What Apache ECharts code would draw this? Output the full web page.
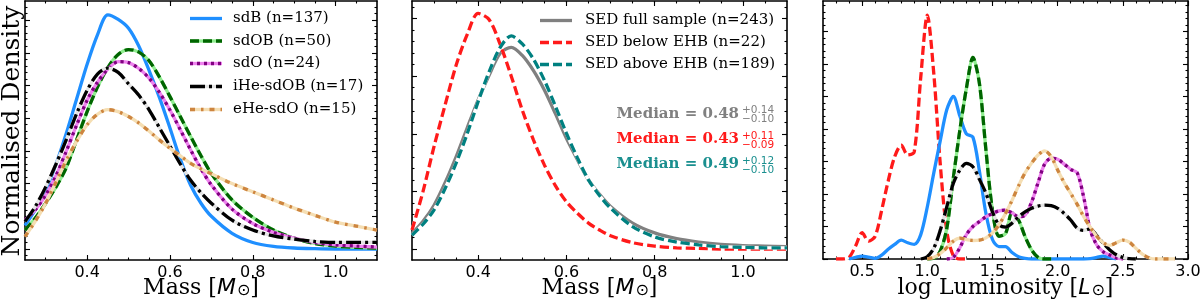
<!DOCTYPE html>
<html><head><meta charset="utf-8">
<script src="https://cdn.jsdelivr.net/npm/echarts@6/dist/echarts.min.js"></script>
<style>html,body{margin:0;padding:0;background:#fff}#c{width:1200px;height:301px}</style>
</head><body><div id="c"></div>
<script>
// ---------- Panel 1 & 2: mass grid ----------
const massGrid = [0.25,0.275,0.30,0.325,0.35,0.375,0.40,0.425,0.45,0.475,0.50,0.525,0.55,0.575,0.60,0.625,0.65,0.675,0.70,0.75,0.80,0.85,0.90,0.95,1.00,1.05,1.10];
const mass_sdB  = [0.72,1.2,1.8,2.6,3.55,4.6,5.65,6.55,7.16,7.02,6.75,6.2,5.45,4.62,3.7,2.75,1.95,1.4,1.0,0.48,0.2,0.08,0.03,0.01,0.0,0.0,0.0];
const mass_sdOB = [0.58,0.95,1.4,1.9,2.5,3.35,4.2,4.95,5.55,5.95,6.1,6.02,5.75,5.25,4.66,4.05,3.44,2.85,2.31,1.5,0.97,0.58,0.33,0.17,0.09,0.05,0.03];
const mass_sdO  = [0.89,1.2,1.65,2.25,3.0,3.8,4.55,5.1,5.5,5.73,5.7,5.52,5.22,4.78,4.25,3.65,3.03,2.45,1.96,1.22,0.78,0.51,0.33,0.2,0.13,0.09,0.06];
const mass_iHe  = [0.84,1.3,1.9,2.6,3.35,4.15,4.85,5.35,5.53,5.4,5.05,4.7,4.25,3.7,3.15,2.6,2.1,1.72,1.4,0.88,0.58,0.4,0.3,0.23,0.2,0.2,0.2];
const mass_eHe  = [0.38,0.85,1.4,2.05,2.72,3.3,3.8,4.12,4.26,4.2,4.05,3.85,3.6,3.33,3.08,2.85,2.62,2.45,2.3,2.0,1.75,1.5,1.25,1.03,0.82,0.7,0.58];
const sed_full  = [0.27,0.48,0.76,1.15,1.6,2.1,2.59,3.02,3.4,3.5,3.36,3.1,2.76,2.35,1.92,1.55,1.2,0.95,0.74,0.45,0.28,0.18,0.12,0.08,0.06,0.05,0.04];
const sed_below = [0.33,1.0,1.78,2.5,3.19,3.72,4.09,3.98,3.55,3.0,2.41,1.9,1.46,1.1,0.82,0.62,0.45,0.33,0.23,0.11,0.05,0.02,0.01,0.0,0.0,0.0,0.0];
const sed_above = [0.24,0.43,0.68,1.05,1.49,2.0,2.56,3.08,3.5,3.7,3.56,3.3,2.93,2.48,2.01,1.58,1.2,0.93,0.71,0.39,0.21,0.12,0.07,0.04,0.03,0.02,0.02];

// ---------- Panel 3: log luminosity grid ----------
const lumGrid = [0.30,0.35,0.40,0.45,0.50,0.55,0.60,0.65,0.70,0.75,0.80,0.85,0.90,0.95,1.00,1.05,1.10,1.15,1.20,1.25,1.30,1.35,1.40,1.45,1.50,1.55,1.60,1.65,1.70,1.75,1.80,1.85,1.90,1.95,2.00,2.05,2.10,2.15,2.20,2.25,2.30,2.35,2.40,2.45,2.50,2.55,2.60,2.65,2.70,2.75,2.80,2.85,2.90];
const N = null;
const lum_below = [0,0,0.05,0.4,0.81,0.55,0.7,1.5,2.4,3.15,3.5,3.2,3.3,5.6,7.5,5.7,2.9,0.85,0.1,0,0,N,N,N,N,N,N,N,N,N,N,N,N,N,N,N,N,N,N,N,N,N,N,N,N,N,N,N,N,N,N,N,N];
const lum_sdB   = [N,N,0,0.05,0.09,0.06,0.02,0.12,0.3,0.45,0.58,0.5,0.45,0.75,1.6,2.65,3.65,4.6,5.0,4.4,3.85,3.75,2.7,1.4,0.6,0.38,0.38,0.2,0.07,0.02,0,0,0,0,0,0,0,0,0,0.01,0.05,0.09,0.04,0,N,N,N,N,N,N,N,N,N];
const lum_sdOB  = [N,N,N,N,N,N,N,N,N,N,N,N,N,N,0,0.02,0.25,0.95,2.5,3.97,5.25,6.2,5.4,3.35,1.5,0.7,0.78,1.42,1.2,0.69,0.28,0.05,0,0,N,N,N,N,N,N,N,N,N,N,N,N,N,N,N,N,N,N,N];
const lum_sdO   = [N,N,N,N,N,N,N,N,N,N,N,N,N,N,N,N,N,0,0.05,0.35,0.75,1.0,1.15,1.3,1.4,1.48,1.5,1.42,1.3,1.35,1.75,2.35,2.92,3.1,3.07,2.92,2.76,2.65,1.9,0.9,0.43,0.22,0.12,0.03,0,N,N,N,N,N,N,N,N];
const lum_iHe   = [N,N,N,N,N,N,N,N,N,N,N,N,N,0,0.07,0.33,0.89,1.61,2.33,2.74,2.94,2.84,2.45,2.02,1.45,1.05,0.98,1.1,1.3,1.45,1.56,1.63,1.66,1.64,1.56,1.4,1.2,0.95,0.88,0.93,0.72,0.48,0.28,0.13,0.05,0.01,0,N,N,N,N,N,N];
const lum_eHe   = [N,N,N,N,N,N,N,N,N,N,N,N,N,N,0,0.05,0.17,0.35,0.55,0.64,0.6,0.57,0.58,0.65,0.8,1.05,1.4,1.8,2.25,2.65,2.95,3.2,3.33,3.15,2.74,2.35,2.02,1.68,1.3,0.98,0.7,0.5,0.42,0.5,0.58,0.52,0.33,0.15,0.04,0,0,0,0];

// tick labels
const massTickLabels = [0.4,0.6,0.8,1.0];
const lumTickLabels = [0.5,1.0,1.5,2.0,2.5,3.0];

// legends / texts
const legend1 = ['sdB (n=137)','sdOB (n=50)','sdO (n=24)','iHe-sdOB (n=17)','eHe-sdO (n=15)'];
const legend2 = ['SED full sample (n=243)','SED below EHB (n=22)','SED above EHB (n=189)'];
const medians = [['0.48','+0.14','\u22120.10'],['0.43','+0.11','\u22120.09'],['0.49','+0.12','\u22120.10']];
const xNames = ['Mass [{m|M}{s|\u2299}]','Mass [{m|M}{s|\u2299}]','log Luminosity [{m|L}{s|\u2299}]'];

const C = {
  blue:'#1f8fff', green:'#006400', lgreen:'#90ee90', purple:'#800080', violet:'#ee82ee',
  black:'#000000', lgray:'#e4e4e4', orange:'#cd853f', wheat:'#f5deb3',
  gray:'#808080', red:'#ff1a1a', teal:'#008080', white:'#ffffff'
};
const STY = {
  sdB:  {c:C.blue, u:null, d:'solid'},
  sdOB: {c:C.green, u:C.lgreen, d:[9,4]},
  sdO:  {c:C.purple, u:C.violet, d:[3,4]},
  iHe:  {c:C.black, u:C.lgray, d:[15,4,3,4]},
  eHe:  {c:C.orange, u:C.wheat, d:[5,6,2.5,6]},
  full: {c:C.gray, u:null, d:'solid'},
  below:{c:C.red, u:C.white, d:[9,4]},
  above:{c:C.teal, u:C.white, d:[9,4]}
};
const LW = 3.3;

function range(a,b,s){const r=[];for(let v=a;v<=b+1e-9;v+=s)r.push(Math.round(v*1000)/1000);return r;}

const grids = [
  {left:25, top:1, width:352, height:259, outerBoundsMode:'none', containLabel:false},
  {left:412, top:1, width:375, height:259, outerBoundsMode:'none', containLabel:false},
  {left:823, top:1, width:365, height:258, outerBoundsMode:'none', containLabel:false}
];
const axCfg = [
  {xmin:0.25,xmax:1.1,xMaj:range(0.4,1.0,0.2),xMin:range(0.3,1.05,0.05),xLab:massTickLabels,
   ymin:-11/32.7,ymax:248/32.7,yMaj:range(0,7,1),yMin:range(-0.2,7.4,0.2)},
  {xmin:0.25,xmax:1.1,xMaj:range(0.4,1.0,0.2),xMin:range(0.3,1.05,0.05),xLab:massTickLabels,
   ymin:-11/57.6,ymax:248/57.6,yMaj:range(0,4,1),yMin:range(-0.2,4.2,0.2)},
  {xmin:0.2,xmax:3.0,xMaj:range(0.5,3.0,0.5),xMin:range(0.3,2.9,0.1),xLab:lumTickLabels,
   ymin:0,ymax:258/32.5,yMaj:range(0,7,1),yMin:range(0,7.8,0.2)}
];

const xAxes=[], yAxes=[];
const lineSty = {color:'#000', width:1.6};
const tickSty = {color:'#000', width:1.1};
axCfg.forEach((a,gi)=>{
  const bx = {type:'value', gridIndex:gi, min:a.xmin, max:a.xmax, splitLine:{show:false}, silent:true};
  const by = {type:'value', gridIndex:gi, min:a.ymin, max:a.ymax, splitLine:{show:false}, silent:true};
  xAxes.push(Object.assign({}, bx, {position:'bottom',
    axisLine:{show:true,onZero:false,lineStyle:lineSty},
    axisTick:{show:true,inside:true,length:5,customValues:a.xMaj,lineStyle:tickSty},
    axisLabel:{show:true,customValues:a.xLab,formatter:v=>Number(v).toFixed(1),margin:5,
      fontFamily:'DejaVu Sans',fontSize:16,color:'#000'}
  }));
  xAxes.push(Object.assign({}, bx, {position:'top',
    axisLine:{show:true,onZero:false,lineStyle:lineSty},
    axisTick:{show:true,inside:true,length:5,customValues:a.xMaj,lineStyle:tickSty},
    axisLabel:{show:false}}));
  xAxes.push(Object.assign({}, bx, {position:'bottom',
    axisLine:{show:false,onZero:false},
    axisTick:{show:true,inside:true,length:2.5,customValues:a.xMin,lineStyle:tickSty},
    axisLabel:{show:false}}));
  xAxes.push(Object.assign({}, bx, {position:'top',
    axisLine:{show:false,onZero:false},
    axisTick:{show:true,inside:true,length:2.5,customValues:a.xMin,lineStyle:tickSty},
    axisLabel:{show:false}}));
  yAxes.push(Object.assign({}, by, {position:'left',
    axisLine:{show:true,onZero:false,lineStyle:lineSty},
    axisTick:{show:true,inside:true,length:5,customValues:a.yMaj,lineStyle:tickSty},
    axisLabel:{show:false}}));
  yAxes.push(Object.assign({}, by, {position:'right',
    axisLine:{show:true,onZero:false,lineStyle:lineSty},
    axisTick:{show:true,inside:true,length:5,customValues:a.yMaj,lineStyle:tickSty},
    axisLabel:{show:false}}));
  yAxes.push(Object.assign({}, by, {position:'left',
    axisLine:{show:false,onZero:false},
    axisTick:{show:true,inside:true,length:2.5,customValues:a.yMin,lineStyle:tickSty},
    axisLabel:{show:false}}));
  yAxes.push(Object.assign({}, by, {position:'right',
    axisLine:{show:false,onZero:false},
    axisTick:{show:true,inside:true,length:2.5,customValues:a.yMin,lineStyle:tickSty},
    axisLabel:{show:false}}));
});

const series=[];
let zc=2;
function addCurve(gi, xs, ys, st, name){
  const data = xs.map((x,i)=>[x, ys[i]]);
  const common = {type:'line', xAxisIndex:gi*4, yAxisIndex:gi*4, data, showSymbol:false, symbol:'none',
    smooth:0.3, connectNulls:false, silent:true, animation:false, clip:true};
  if(st.u){
    series.push(Object.assign({}, common, {name:name+' halo', z:zc++, lineStyle:{color:st.u, width:LW, type:'solid'}}));
  }
  series.push(Object.assign({}, common, {name, z:zc++, lineStyle:{color:st.c, width:LW, type:st.d, cap:'butt'}}));
}
addCurve(0, massGrid, mass_sdB, STY.sdB, 'sdB');
addCurve(0, massGrid, mass_sdOB, STY.sdOB, 'sdOB');
addCurve(0, massGrid, mass_sdO, STY.sdO, 'sdO');
addCurve(0, massGrid, mass_iHe, STY.iHe, 'iHe-sdOB');
addCurve(0, massGrid, mass_eHe, STY.eHe, 'eHe-sdO');
addCurve(1, massGrid, sed_full, STY.full, 'SED full');
addCurve(1, massGrid, sed_below, STY.below, 'SED below');
addCurve(1, massGrid, sed_above, STY.above, 'SED above');
addCurve(2, lumGrid, lum_below, STY.below, 'L below');
addCurve(2, lumGrid, lum_sdB, STY.sdB, 'L sdB');
addCurve(2, lumGrid, lum_sdOB, STY.sdOB, 'L sdOB');
addCurve(2, lumGrid, lum_sdO, STY.sdO, 'L sdO');
addCurve(2, lumGrid, lum_iHe, STY.iHe, 'L iHe');
addCurve(2, lumGrid, lum_eHe, STY.eHe, 'L eHe');

// graphic: legends, axis titles, median texts
const graphic=[];
function legendRow(x1,x2,tx,y,st,label){
  if(st.u) graphic.push({type:'polyline',shape:{points:[[x1,y],[x2,y]]},style:{stroke:st.u,lineWidth:LW,fill:null},silent:true,z:100});
  graphic.push({type:'polyline',shape:{points:[[x1,y],[x2,y]]},style:{stroke:st.c,lineWidth:LW,fill:null,lineDash:(st.d==='solid'?null:st.d)},silent:true,z:101});
  graphic.push({type:'text',x:tx,y:y,style:{text:label,font:'15px "DejaVu Serif"',fill:'#000',align:'left',verticalAlign:'middle'},silent:true,z:101});
}
const l1y=[18.5,41,63.5,86.5,109.5];
[STY.sdB,STY.sdOB,STY.sdO,STY.iHe,STY.eHe].forEach((st,i)=>legendRow(190,222,233,l1y[i],st,legend1[i]));
const l2y=[20.5,42.5,64.5];
[STY.full,STY.below,STY.above].forEach((st,i)=>legendRow(540,572,585,l2y[i],st,legend2[i]));

graphic.push({type:'text',x:12,y:131,rotation:Math.PI/2,style:{text:'Normalised Density',font:'25px "DejaVu Serif"',fill:'#000',align:'center',verticalAlign:'middle'},silent:true});

const nameX=[201,599.5,1005.5];
xNames.forEach((t,i)=>{
  graphic.push({type:'text',x:nameX[i],y:288,silent:true,style:{text:t,fontFamily:'DejaVu Serif',fontSize:22,lineHeight:22,fill:'#000',
    align:'center',verticalAlign:'middle',
    rich:{m:{fontFamily:'DejaVu Sans',fontStyle:'italic',fontSize:22,lineHeight:22,fill:'#000'},
          s:{fontFamily:'DejaVu Sans',fontSize:16,lineHeight:10,fill:'#000',verticalAlign:'bottom',padding:[0,0,0,1]}}}});
});

const medCol=[C.gray,C.red,'#1a8f8f'];
const medY=[114,139.5,164.5];
medians.forEach((m,i)=>{
  graphic.push({type:'text',x:739,y:medY[i],style:{text:'Median = '+m[0],font:'bold 15px "DejaVu Serif"',fill:medCol[i],align:'right',verticalAlign:'middle'},silent:true});
  graphic.push({type:'text',x:742,y:medY[i]-3.5,style:{text:m[1],font:'10.5px "DejaVu Sans"',fill:medCol[i],align:'left',verticalAlign:'middle'},silent:true});
  graphic.push({type:'text',x:742,y:medY[i]+5.5,style:{text:m[2],font:'10.5px "DejaVu Sans"',fill:medCol[i],align:'left',verticalAlign:'middle'},silent:true});
});

const chart = echarts.init(document.getElementById('c'), null, {renderer:'canvas'});
chart.setOption({
  animation:false,
  backgroundColor:'#fff',
  grid:grids,
  xAxis:xAxes,
  yAxis:yAxes,
  series:series,
  graphic:graphic
});
</script>
</body></html>
